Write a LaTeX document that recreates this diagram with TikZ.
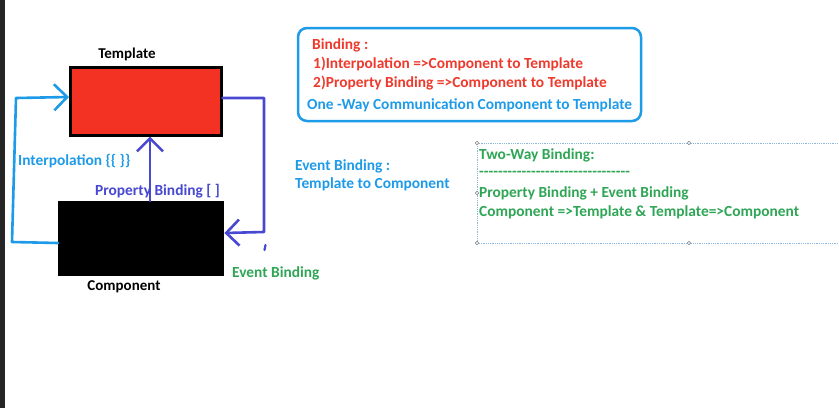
\documentclass[tikz,border=0pt]{standalone}
\usepackage{fontspec}
\setmainfont{Carlito}
\usetikzlibrary{arrows.meta}
\definecolor{lblue}{HTML}{1E9BE8}
\definecolor{pblue}{HTML}{4848D0}
\definecolor{tred}{HTML}{EE3A2C}
\definecolor{rfill}{HTML}{F43224}
\definecolor{tgreen}{HTML}{2FA655}
\definecolor{dotc}{HTML}{8CB8E0}
\newcommand\hy{-\kern0pt}
\tikzset{
  txt/.style={anchor=west,inner sep=0pt,font=\bfseries\fontsize{15.4}{17}\selectfont},
  lbl/.style={inner sep=0pt,font=\bfseries\fontsize{15}{17}\selectfont},
  wire/.style={line width=2.6pt,line join=round,line cap=round},
  barb/.style={-{Straight Barb[length=13pt,width=26pt,line width=2.6pt]}},
  handle/.style={circle,draw=gray,fill=white,inner sep=0pt,minimum size=3.5pt,line width=0.6pt}
}
\begin{document}
\begin{tikzpicture}[x=1pt,y=-1pt]
\useasboundingbox (0,0) rectangle (839,408);
\fill[white] (0,0) rectangle (839,408);
\fill[black!85] (0,0) rectangle (5,408);
% boxes
\node[draw=black,line width=2.5pt,fill=rfill,minimum width=151pt,minimum height=68pt,inner sep=0pt,anchor=north west] (tpl) at (69,66) {};
\node[fill=black,minimum width=166pt,minimum height=75pt,inner sep=0pt,anchor=north west] (cmp) at (58,201) {};
\node[lbl] (tpllbl) at (127,54) {Template};
\node[lbl] (cmplbl) at (124,287) {Component};
% labels
\node[txt,text=lblue] (interp) at (18,161) {Interpolation \{\{ \}\}};
\node[txt,text=pblue] (prop) at (95,191) {Property Binding [ ]};
\node[txt,text=tgreen] (evlbl) at (232,273) {Event Binding};
% connectors
\coordinate (i1) at (12,242);
\coordinate (i2) at (16,98);
\draw[wire,lblue,barb] (cmp.west |- 0,243) -- (i1) -- (i2) -- (tpl.west |- 0,97);
\draw[wire,pblue,barb] (cmp.north -| 150,0) -- (tpl.south -| 150,0);
\coordinate (e1) at (264,98);
\coordinate (e2) at (264,232);
\draw[wire,pblue,barb] (tpl.east |- 0,98) -- (e1) -- (e2) -- (cmp.east |- 0,233);
\coordinate (t1) at (265.5,245);
\coordinate (t2) at (264.5,250);
\draw[wire,pblue,line width=2.2pt] (t1) -- (t2);
% info box
\draw[lblue,line width=2.5pt,rounded corners=9pt] (298,28) rectangle (641,121);
\node[txt,text=tred] (b0) at (312,45) {Binding :};
\node[txt,text=tred] (b1) at (313,64) {1)Interpolation =>Component to Template};
\node[txt,text=tred] (b2) at (313,83) {2)Property Binding =>Component to Template};
\node[txt,text=lblue] (b3) at (307,105) {One -Way Communication Component to Template};
% event binding text
\node[txt,text=lblue] (ev1) at (295,166) {Event Binding :};
\node[txt,text=lblue] (ev2) at (295,184) {Template to Component};
% two way box
\draw[dotc,line width=0.8pt,densely dotted] (839.5,143) -- (477,143) -- (477,243) -- (839.5,243);
\foreach \p in {(477,143),(477,193),(477,243),(689,143),(689,243)} \node[handle] at \p {};
\node[txt,text=tgreen] (w0) at (479,155) {Two-Way Binding:};
\node[txt,text=tgreen] (w1) at (479,174) {\foreach \i in {1,...,32}{\hy}};
\node[txt,text=tgreen] (w2) at (479,193) {Property Binding + Event Binding};
\node[txt,text=tgreen] (w3) at (479,212) {Component =>Template \& Template=>Component};
\end{tikzpicture}
\end{document}
